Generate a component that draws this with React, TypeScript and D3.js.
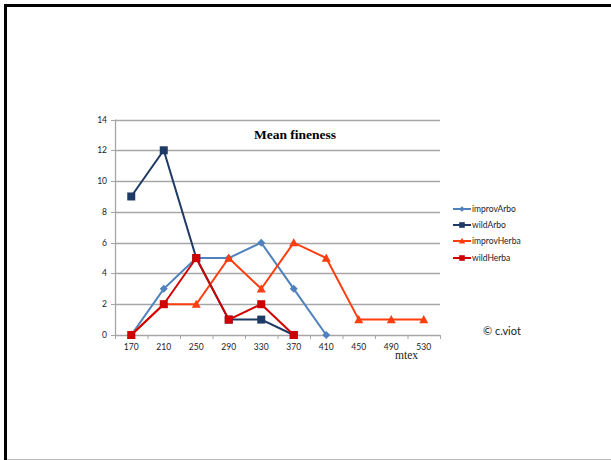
import React, { useEffect, useRef } from "react";
import * as d3 from "d3";

const categories = ["170", "210", "250", "290", "330", "370", "410", "450", "490", "530"];
const improvArbo: (number | null)[] = [0, 3, 5, 5, 6, 3, 0, null, null, null];
const wildArbo: (number | null)[] = [9, 12, 5, 1, 1, 0, null, null, null, null];
const improvHerba: (number | null)[] = [0, 2, 2, 5, 3, 6, 5, 1, 1, 1];
const wildHerba: (number | null)[] = [0, 2, 5, 1, 2, 0, null, null, null, null];
const yTicks = [0, 2, 4, 6, 8, 10, 12, 14];

const seriesList = [
  { name: "improvArbo", values: improvArbo, color: "#4F81BD", marker: "diamond" },
  { name: "wildArbo", values: wildArbo, color: "#1F3A64", marker: "square" },
  { name: "improvHerba", values: improvHerba, color: "#FF3D0F", marker: "triangle" },
  { name: "wildHerba", values: wildHerba, color: "#D00000", marker: "square" },
];

export default function App() {
  const ref = useRef<SVGSVGElement>(null);
  useEffect(() => {
    const svg = d3.select(ref.current);
    svg.selectAll("*").remove();
    const W = 611, H = 460;
    const x0 = 115, x1 = 440, yTop = 119.5, yBot = 335;

    // slide frame
    svg.append("rect").attr("x", 0).attr("y", 0).attr("width", W).attr("height", H).attr("fill", "#fff");
    svg.append("line").attr("x1", 4).attr("x2", W).attr("y1", 5.5).attr("y2", 5.5).attr("stroke", "#000").attr("stroke-width", 3);
    svg.append("line").attr("x1", 5.5).attr("x2", 5.5).attr("y1", 4).attr("y2", H).attr("stroke", "#000").attr("stroke-width", 3);
    svg.append("line").attr("x1", 7).attr("x2", W).attr("y1", 459.5).attr("y2", 459.5).attr("stroke", "#bbb").attr("stroke-width", 1);

    const x = d3.scaleBand<string>().domain(categories).range([x0, x1]);
    const y = d3.scaleLinear().domain([0, 14]).range([yBot, yTop]);

    const g = svg.append("g");
    // gridlines
    g.selectAll("line.grid").data(yTicks.filter(t => t > 0)).enter().append("line")
      .attr("x1", x0).attr("x2", x1)
      .attr("y1", d => Math.round(y(d)) + 0.5).attr("y2", d => Math.round(y(d)) + 0.5)
      .attr("stroke", "#a6a6a6").attr("stroke-width", 1.3);

    // y axis
    g.append("line").attr("x1", x0 + 0.5).attr("x2", x0 + 0.5).attr("y1", yTop).attr("y2", yBot).attr("stroke", "#a6a6a6").attr("stroke-width", 1.3);
    g.selectAll("line.ytick").data(yTicks).enter().append("line")
      .attr("x1", x0 - 4).attr("x2", x0)
      .attr("y1", d => Math.round(y(d)) + 0.5).attr("y2", d => Math.round(y(d)) + 0.5)
      .attr("stroke", "#a6a6a6");
    g.selectAll("text.ylab").data(yTicks).enter().append("text")
      .attr("x", 107).attr("y", d => y(d) + 3)
      .attr("text-anchor", "end").attr("font-family", "Lato, 'Open Sans', sans-serif").attr("font-size", 8.5).attr("fill", "#222")
      .text(d => String(d));

    // x axis
    g.append("line").attr("x1", x0).attr("x2", x1).attr("y1", yBot + 0.5).attr("y2", yBot + 0.5).attr("stroke", "#a6a6a6").attr("stroke-width", 1.3);
    const bounds = categories.map(c => x(c)!).concat([x1]);
    g.selectAll("line.xtick").data(bounds).enter().append("line")
      .attr("x1", d => d + 0.5).attr("x2", d => d + 0.5).attr("y1", yBot).attr("y2", yBot + 4)
      .attr("stroke", "#a6a6a6");
    g.selectAll("text.xlab").data(categories).enter().append("text")
      .attr("x", d => x(d)! + x.bandwidth() / 2).attr("y", 350)
      .attr("text-anchor", "middle").attr("font-family", "Lato, 'Open Sans', sans-serif").attr("font-size", 8.5).attr("fill", "#222")
      .text(d => d);

    // title
    svg.append("text").attr("x", 295).attr("y", 139).attr("text-anchor", "middle")
      .attr("font-family", "'Liberation Serif', 'DejaVu Serif', serif").attr("font-weight", "bold").attr("font-size", 13.5).attr("fill", "#000")
      .text("Mean fineness");

    const cx = (i: number) => x(categories[i])! + x.bandwidth() / 2;

    const drawMarker = (sel: any, marker: string, color: string, px: number, py: number, s = 1) => {
      if (marker === "square") {
        sel.append("rect").attr("x", px - 4 * s).attr("y", py - 4 * s).attr("width", 8 * s).attr("height", 8 * s).attr("fill", color);
      } else if (marker === "diamond") {
        const r = 4 * s;
        sel.append("path").attr("d", `M${px},${py - r}L${px + r},${py}L${px},${py + r}L${px - r},${py}Z`).attr("fill", color);
      } else {
        const r = 4.5 * s;
        sel.append("path").attr("d", `M${px},${py - r}L${px + r},${py + r * 0.8}L${px - r},${py + r * 0.8}Z`).attr("fill", color);
      }
    };

    seriesList.forEach(s => {
      const pts = s.values.map((v, i) => ({ v, i })).filter(p => p.v !== null) as { v: number; i: number }[];
      const line = d3.line<{ v: number; i: number }>().x(p => cx(p.i)).y(p => y(p.v));
      g.append("path").attr("d", line(pts)!).attr("fill", "none").attr("stroke", s.color).attr("stroke-width", 2);
      pts.forEach(p => drawMarker(g, s.marker, s.color, cx(p.i), y(p.v)));
    });

    // legend
    const legY = [209, 225, 241, 258];
    seriesList.forEach((s, k) => {
      const ly = legY[k];
      svg.append("line").attr("x1", 453).attr("x2", 471).attr("y1", ly).attr("y2", ly).attr("stroke", s.color).attr("stroke-width", 2);
      drawMarker(svg, s.marker, s.color, 462, ly, 0.7);
      svg.append("text").attr("x", 472).attr("y", ly + 3).attr("font-family", "Lato, 'Open Sans', sans-serif").attr("font-size", 8.5).attr("fill", "#222").text(s.name);
    });

    svg.append("text").attr("x", 483).attr("y", 335).attr("font-family", "Lato, 'Open Sans', sans-serif").attr("font-size", 11).attr("fill", "#222").text("© c.viot");
    svg.append("text").attr("x", 395).attr("y", 359).attr("font-family", "'Liberation Serif', 'DejaVu Serif', serif").attr("font-size", 11.5).attr("fill", "#222").text("mtex");
  }, []);
  return (
    <svg ref={ref} width={611} height={460} style={{ position: "absolute", left: 0, top: 0 }} />
  );
}
